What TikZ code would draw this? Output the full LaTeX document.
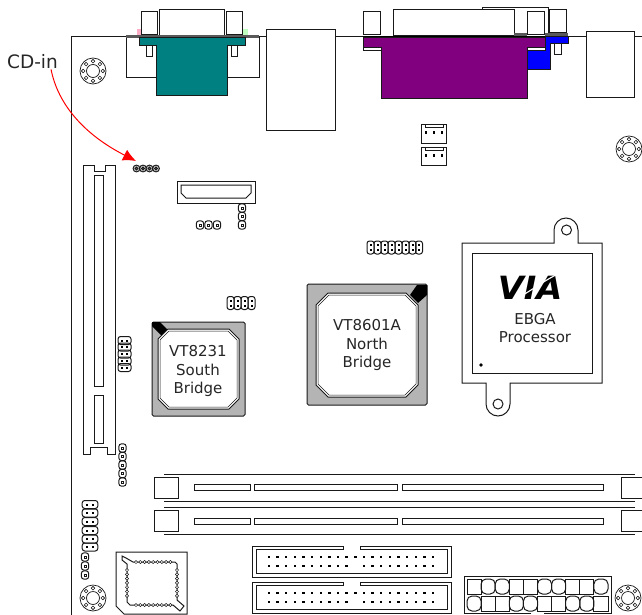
\documentclass[tikz,border=0pt]{standalone}
\usepackage{fontspec}
\setmainfont{DejaVu Sans}
\usepackage{xcolor}
\usepackage{tikz}
\usetikzlibrary{arrows.meta,positioning}

\definecolor{chipgray}{HTML}{B4B4B4}
\definecolor{vgateal}{HTML}{008080}
\definecolor{lptpurple}{HTML}{800080}

\begin{document}
\begin{tikzpicture}[
    x=1pt, y=-1pt,
    part/.style={draw=black!90, line width=1pt, fill=white},
    outline/.style={draw=black!90, line width=1pt},
    label/.style={font=\fontsize{15}{18.5}\selectfont, text=black!85, align=center, inner sep=0pt},
    pinh/.pic={
      \draw[outline, rounded corners=2.5pt] (-6.5,-4) rectangle (6.5,4);
      \fill (-3.5,-1) rectangle (-1.5,1);
      \fill (1.5,-1) rectangle (3.5,1);
    },
    pinv/.pic={
      \draw[outline, rounded corners=2.5pt] (-3.5,-6.5) rectangle (3.5,6.5);
      \fill (-1,-3.5) rectangle (1,-1.5);
      \fill (-1,1.5) rectangle (1,3.5);
    },
    pinone/.pic={
      \draw[outline, rounded corners=2.8pt] (-3.7,-4.2) rectangle (3.7,4.2);
      \draw[outline, line width=0.6pt] (-1.2,-1.2) rectangle (1.2,1.2);
    },
    hole/.pic={
      \draw[outline, line width=0.7pt] (0,0) circle[radius=13pt];
      \draw[outline, line width=0.7pt] (0,0) circle[radius=6.5pt];
      \foreach \a in {0,45,...,315}
        \draw[outline, line width=0.6pt] (\a:9.8pt) circle[radius=1.8pt];
    },
    dimm/.pic={
      \draw[outline] (-154,-13.5) -- (317,-13.5);
      \draw[outline] (-154,13.5) -- (317,13.5);
      \draw[part] (-164,-10.5) rectangle (-140,10.5);
      \draw[part] (340,-10.5) -- (303,-10.5) -- (303,10.5) -- (340,10.5);
      \draw[outline] (-124,-3) rectangle (-68,3);
      \draw[outline] (-64,-3) rectangle (79,3);
      \draw[outline] (84,-3) rectangle (285,3);
    },
    fanhdr/.pic={
      \draw[outline] (0,0) rectangle (25,18.5);
      \draw[outline] (4,0) -- (4,3) -- (22,3) -- (22,0);
      \foreach \x in {5,13,21}
        \fill (\x-1.3,6.5) rectangle (\x+1.3,9.5);
    },
    idehdr/.pic={
      \draw[outline] (91,0) -- (0,0) -- (0,31) -- (199,31) -- (199,0) -- (108,0);
      \draw[outline] (91,0) -- (91,3) -- (4,3) -- (4,27) -- (195,27) -- (195,3) -- (108,3) -- (108,0);
      \foreach \n in {0,...,19} {
        \fill (17+\n*8.63-1.2,11-1.2) rectangle (17+\n*8.63+1.2,11+1.2);
        \ifnum\n=10\relax\else
          \fill (17+\n*8.63-1.2,20-1.2) rectangle (17+\n*8.63+1.2,20+1.2);
        \fi
      }
    },
    bridgeoct/.style={draw=black!90, line width=1pt, fill=white}
  ]
    % Page and board edge
    \useasboundingbox (0,0) rectangle (642,615);
    \draw[outline] (642,37) -- (71,37) -- (71,615);

    % VGA port
    \draw[part] (126,37) rectangle (259,78);
    \draw[part] (141,12) rectangle (157,35);
    \draw[part] (226,12) rectangle (242,35);
    \draw[part] (159,10) rectangle (224,36);
    \fill[pink!90!magenta] (137,29) rectangle (141,35);
    \fill[green!25] (243,29) rectangle (248,35);
    \fill[black!65] (126,35.5) rectangle (259,38);
    \draw[outline, fill=vgateal] (139,38) -- (245,38) -- (245,46) -- (227,46) -- (227,96) -- (156,96) -- (156,46) -- (139,46) -- cycle;
    \draw[part] (146,46) rectangle (152,57);
    \draw[part] (231,46) rectangle (237,57);
    \draw[part] (266,30) rectangle (335,131);

    % LPT port
    \draw[outline] (482,36) -- (482,8) -- (548,8) -- (548,36);
    \draw[part] (363,12) rectangle (380,35);
    \draw[part] (527,12) rectangle (544,35);
    \draw[part] (393,10) rectangle (514,36);
    \draw[part] (549,10) rectangle (566,33);
    \fill[black!65] (514,33.5) rectangle (527,36);
    \fill[black!65] (545,33) rectangle (568,37);
    \fill[black] (363,36) rectangle (545,38.5);
    \draw[outline, fill=blue] (545,37) -- (568,37) -- (568,44) -- (550,44) -- (550,70) -- (527,70) -- (527,48) -- (545,48) -- cycle;
    \draw[part] (554,44) rectangle (561,55);
    \draw[outline, fill=lptpurple] (363,38) -- (545,38) -- (545,48) -- (527,48) -- (527,99) -- (381,99) -- (381,48) -- (363,48) -- cycle;
    \draw[part] (363,48) rectangle (381,51);
    \draw[part] (527,48) rectangle (545,51);
    \draw[part] (586,32) rectangle (634,98);

    % Fan headers
    \pic at (421,124.5) {fanhdr};
    \pic at (421,147) {fanhdr};

    % Mounting holes
    \pic at (93,71) {hole};
    \pic at (629,149) {hole};
    \pic at (93,598) {hole};
    \pic at (628,598) {hole};

    % PCI slot
    \draw[outline] (83,165) -- (94,165) -- (94,171) -- (105,171) -- (105,165) -- (115,165) -- (115,454) -- (107,454) -- (107,447) -- (90,447) -- (90,454) -- (83,454) -- cycle;
    \draw[outline] (94,175) rectangle (103,386);
    \draw[outline] (94,395) rectangle (103,443);

    % Audio connector
    \draw[part] (177,181) rectangle (255,203);
    \draw[outline] (181,185) -- (251,185) -- (251,193) -- (246,198) -- (186,198) -- (181,193) -- cycle;

    % Pin headers
    \foreach \x in {136.5,143,149.5,156}
      \draw[outline, fill=black!15] (\x,168.5) circle[radius=3.4pt] (\x,168.5) circle[radius=1.3pt];
    \coordinate (cdpins) at (136,161);
    \foreach \y in {208,216.5,225}
      \pic at (242,\y) {pinone};
    \foreach \x in {200,208.5,217}
      \pic at (\x,225) {pinone};
    \foreach \x in {230.5,237.5,244.5,251.5}
      \pic at (\x,303) {pinv};
    \foreach \y in {340.5,347,354,361,367.5}
      \pic at (124.5,\y) {pinh};
    \foreach \x in {370.5,377.5,384.5,391.5,398.5,405.5,412.5,419}
      \pic at (\x,247.5) {pinv};
    \foreach \y in {448,456.5,465,473.5,482}
      \pic at (122.5,\y) {pinone};
    \foreach \y in {504.5,513,521.5,530.5,539,547}
      \pic[xscale=1.2] at (90,\y) {pinh};
    \foreach \y in {557,566,575}
      \pic at (85,\y) {pinone};

    % South bridge
    \draw[outline, fill=chipgray, rounded corners=1.5pt] (152,322) rectangle (245,416);
    \fill (152,322) -- (160,322) -- (168,330) -- (162,336) -- (152,326) -- cycle;
    \draw[bridgeoct] (168,329) -- (229,329) -- (239,339) -- (239,399) -- (229,409) -- (168,409) -- (158,399) -- (158,339) -- cycle;
    \draw[outline, line width=0.5pt] (169,331) -- (228,331) -- (237,340) -- (237,398) -- (228,407) -- (169,407) -- (160,398) -- (160,340) -- cycle;
    \node[label] (southlbl) at (198,371) {VT8231\\South\\Bridge};

    % North bridge
    \draw[outline, fill=chipgray, rounded corners=1.5pt] (307,284) rectangle (427,405);
    \fill (417,285) -- (427,285) -- (427,295) -- (418,303) -- (410,295) -- cycle;
    \draw[bridgeoct] (328,293) -- (406,293) -- (418,305) -- (418,385) -- (406,397) -- (328,397) -- (316,385) -- (316,305) -- cycle;
    \draw[outline, line width=0.5pt] (329,295) -- (405,295) -- (416,306) -- (416,384) -- (405,395) -- (329,395) -- (318,384) -- (318,306) -- cycle;
    \node[label] (northlbl) at (367,345) {VT8601A\\North\\Bridge};

    % Processor
    \draw[part] (462,243) -- (554,243) -- (554,230) .. controls (554,223.4) and (559.4,218) .. (566,218) .. controls (572.6,218) and (578,223.4) .. (578,230) -- (578,243) -- (602,243) -- (602,383) -- (510,383) -- (510,404) .. controls (510,410.6) and (504.6,416) .. (498,416) .. controls (491.4,416) and (486,410.6) .. (486,404) -- (486,383) -- (462,383) -- cycle;
    \draw[outline] (472,253) rectangle (592,373);
    \draw[outline] (566.5,230) circle[radius=5pt];
    \draw[outline] (498,404) circle[radius=5pt];
    \fill (481,365) circle[radius=1.8pt];
    \node[inner sep=0pt, xscale=1.05, font=\fontsize{32}{32}\selectfont\bfseries\itshape] (vialogo) at (530,288) {VIA};
    \draw[white, line width=1.1pt] (512,301) .. controls (525,295) and (545,280) .. (556,275);
    \node[label] (cpulbl) at (535,328) {EBGA\\Processor};

    % Memory slots
    \pic at (318,487.5) {dimm};
    \pic at (318,521) {dimm};

    % IDE headers
    \pic at (252,546) {idehdr};
    \pic at (252,582) {idehdr};

    % ATX power
    \draw[outline] (531,613) -- (464,613) -- (464,576) -- (611,576) -- (611,613) -- (544,613);
    \foreach \x/\r in {0/0,1/5,2/5,3/0,4/0,5/5,6/5,7/0,8/0,9/5}
      \draw[outline, rounded corners=\r pt] (467+\x*14.1,594) -- (467+\x*14.1,579) -- (481.1+\x*14.1,579) -- (481.1+\x*14.1,594) -- cycle;
    \foreach \x/\r in {0/5,1/0,2/0,3/5,4/5,5/0,6/0,7/5,8/5,9/0}
      \draw[outline, rounded corners=\r pt] (467+\x*14.1,611) -- (467+\x*14.1,596) -- (481.1+\x*14.1,596) -- (481.1+\x*14.1,611) -- cycle;

    % BIOS socket
    \draw[part] (116,552) -- (187,552) -- (187,614) -- (124,614) -- (116,606) -- cycle;
    \draw[outline] (122,556) -- (126,558) -- (133,562) -- (175,562) -- (177,564) -- (177,600) -- (184,606) -- (180,611) -- (173,605) -- (130,605) -- (127,602) -- (127,564) -- (122,560) -- cycle;
    \foreach \n in {0,...,8} {
      \draw[outline, line width=0.5pt, fill=white] (136+\n*4.3,562) circle[radius=1.6pt];
      \draw[outline, line width=0.5pt, fill=white] (136+\n*4.3,605) circle[radius=1.6pt];
    }
    \foreach \n in {0,...,6} {
      \draw[outline, line width=0.5pt, fill=white] (127,570+\n*4.3) circle[radius=1.6pt];
      \draw[outline, line width=0.5pt, fill=white] (177,570+\n*4.3) circle[radius=1.6pt];
    }

    % Callout
    \node[label, font=\fontsize{18.5}{20}\selectfont] (cdin) at (32.5,62) {CD-in};
    \draw[-{Latex[length=13pt,width=12pt]}, red, line width=1pt] ([xshift=-7pt]cdin.south east) .. controls (58,105) and (85,135) .. (cdpins);
  \end{tikzpicture}
\end{document}
